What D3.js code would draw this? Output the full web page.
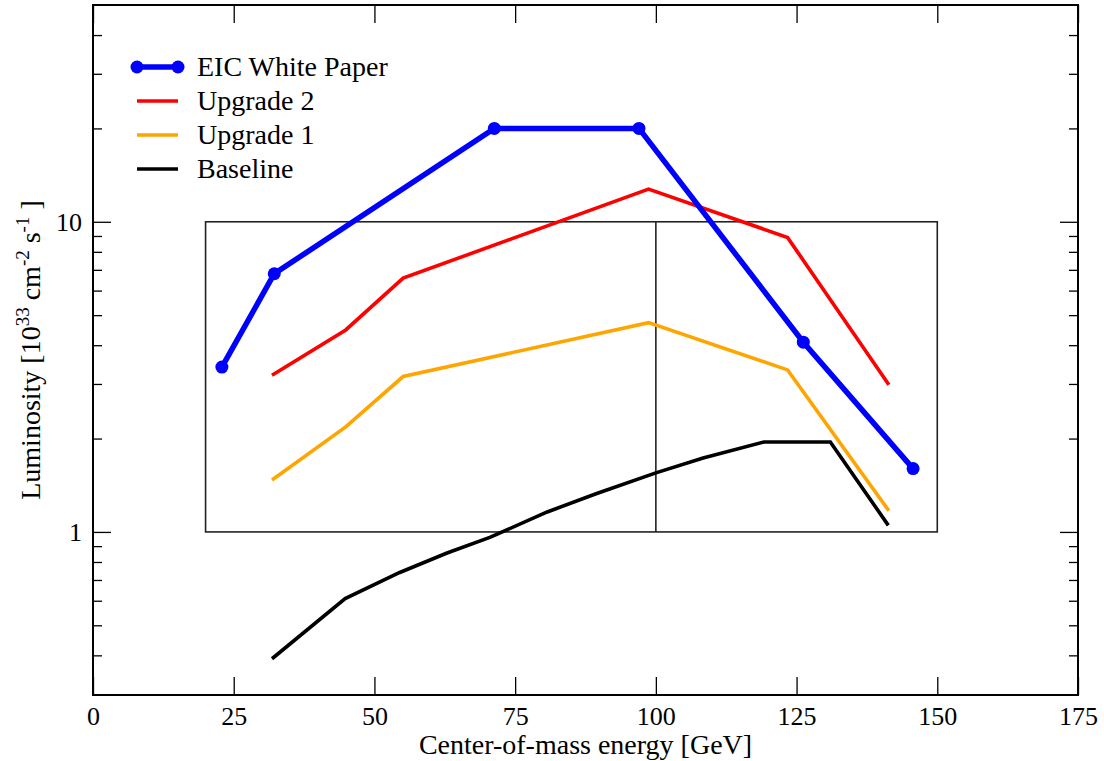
<!DOCTYPE html>
<html>
<head>
<meta charset="utf-8">
<script src="https://cdn.jsdelivr.net/npm/d3@7"></script>
<style>
  body { margin: 0; background: #fff; }
  text { font-family: "Liberation Serif", "Times New Roman", serif; fill: #000; }
</style>
</head>
<body>
<div id="chart"></div>
<script>
// data
var wpE   = [22.9, 32.2, 71.3, 97.0, 126.2, 145.7];
var wpL   = [3.40, 6.80, 20.0, 20.0, 4.09, 1.60];
var upE   = [31.8, 44.9, 55.1, 98.7, 123.4, 141.4];
var up2L  = [3.20, 4.48, 6.58, 12.75, 8.90, 2.98];
var up1L  = [1.47, 2.18, 3.17, 4.73, 3.33, 1.17];
var baseE = [31.8, 44.8, 54.5, 62.9, 70.5, 80.7, 89.5, 100.0, 108.4, 119.2, 131.0, 141.3];
var baseL = [0.39, 0.61, 0.74, 0.855, 0.96, 1.16, 1.33, 1.55, 1.73, 1.95, 1.95, 1.05];

var seriesNames = ["EIC White Paper", "Upgrade 2", "Upgrade 1", "Baseline"];
var seriesColors = ["#0000ff", "#ff0000", "#ffa500", "#000000"];

var xTicks = [0, 25, 50, 75, 100, 125, 150, 175];
var yMajor = [1, 10];
var yMinor = [0.4, 0.5, 0.6, 0.7, 0.8, 0.9, 2, 3, 4, 5, 6, 7, 8, 9, 20, 30, 40];

// box drawn in the plot: 20..150 GeV, 1..10, split at 100 GeV
var boxE = [20, 100, 150];
var boxL = [1, 10];

var margin = {top: 5, right: 26, bottom: 66, left: 93},
    width = 1104 - margin.left - margin.right,
    height = 761 - margin.top - margin.bottom;

var svg = d3.select("#chart").append("svg")
  .attr("width", 1104)
  .attr("height", 761);

var g = svg.append("g")
  .attr("transform", "translate(" + margin.left + "," + margin.top + ")");

var x = d3.scaleLinear().domain([0, 175]).range([0, width]);
var y = d3.scaleLog().domain([0.298, 50]).range([height, 0]);

// box with the 100 GeV divider
g.append("rect")
  .attr("x", x(boxE[0]))
  .attr("y", y(boxL[1]))
  .attr("width", x(boxE[2]) - x(boxE[0]))
  .attr("height", y(boxL[0]) - y(boxL[1]))
  .attr("fill", "none")
  .attr("stroke", "#222")
  .attr("stroke-width", 1.6);
g.append("line")
  .attr("x1", x(boxE[1])).attr("x2", x(boxE[1]))
  .attr("y1", y(boxL[0])).attr("y2", y(boxL[1]))
  .attr("stroke", "#222")
  .attr("stroke-width", 1.6);

// axes, ticks pointing inward
function styleAxis(sel) {
  sel.select(".domain").remove();
  sel.selectAll(".tick line").attr("stroke", "#000").attr("stroke-width", 1.3);
  sel.selectAll("text").style("font-size", "26px").style("font-family", "Liberation Serif");
}

g.append("g")
  .attr("transform", "translate(0," + height + ")")
  .call(d3.axisBottom(x).tickValues(xTicks).tickSize(-18).tickPadding(12).tickFormat(d3.format("d")))
  .call(styleAxis);
g.append("g")
  .call(d3.axisTop(x).tickValues(xTicks).tickSize(-18).tickFormat(""))
  .call(styleAxis);

g.append("g")
  .call(d3.axisLeft(y).tickValues(yMajor).tickSize(-18).tickPadding(11).tickFormat(d3.format("d")))
  .call(styleAxis);
g.append("g")
  .call(d3.axisLeft(y).tickValues(yMinor).tickSize(-9).tickFormat(""))
  .call(styleAxis);
g.append("g")
  .attr("transform", "translate(" + width + ",0)")
  .call(d3.axisRight(y).tickValues(yMajor).tickSize(-18).tickFormat(""))
  .call(styleAxis);
g.append("g")
  .attr("transform", "translate(" + width + ",0)")
  .call(d3.axisRight(y).tickValues(yMinor).tickSize(-9).tickFormat(""))
  .call(styleAxis);

// frame
g.append("rect")
  .attr("width", width)
  .attr("height", height)
  .attr("fill", "none")
  .attr("stroke", "#000")
  .attr("stroke-width", 2);

var line = d3.line()
  .x(function(d) { return x(d[0]); })
  .y(function(d) { return y(d[1]); });

function pairs(xs, ys) {
  return xs.map(function(v, i) { return [v, ys[i]]; });
}

var series = [
  {data: pairs(wpE, wpL), w: 5.5},
  {data: pairs(upE, up2L), w: 3.6},
  {data: pairs(upE, up1L), w: 3.6},
  {data: pairs(baseE, baseL), w: 3.6}
];

// draw back to front so the white paper line sits on top
series.slice().reverse().forEach(function(s, j) {
  var i = series.length - 1 - j;
  g.append("path")
    .datum(s.data)
    .attr("fill", "none")
    .attr("stroke", seriesColors[i])
    .attr("stroke-width", s.w)
    .attr("stroke-linejoin", "miter")
    .attr("d", line);
});

g.selectAll(".wp-dot")
  .data(series[0].data)
  .enter().append("circle")
  .attr("class", "wp-dot")
  .attr("cx", function(d) { return x(d[0]); })
  .attr("cy", function(d) { return y(d[1]); })
  .attr("r", 6.5)
  .attr("fill", seriesColors[0]);

// legend
var legend = svg.append("g").attr("transform", "translate(137,67)");
seriesNames.forEach(function(name, i) {
  var row = legend.append("g").attr("transform", "translate(0," + (i * 34) + ")");
  row.append("line")
    .attr("x1", 0).attr("x2", 41)
    .attr("stroke", seriesColors[i])
    .attr("stroke-width", series[i].w);
  if (i === 0) {
    row.selectAll("circle").data([0, 41]).enter().append("circle")
      .attr("cx", function(d) { return d; })
      .attr("r", 6.5)
      .attr("fill", seriesColors[0]);
  }
  row.append("text")
    .attr("x", 60)
    .attr("y", 9)
    .style("font-size", "28px")
    .text(name);
});

// axis titles
svg.append("text")
  .attr("x", margin.left + width / 2)
  .attr("y", 754)
  .attr("text-anchor", "middle")
  .style("font-size", "28px")
  .text("Center-of-mass energy [GeV]");

var yt = svg.append("text")
  .attr("transform", "translate(40," + (margin.top + height / 2) + ") rotate(-90)")
  .attr("text-anchor", "middle")
  .style("font-size", "28px");
yt.append("tspan").text("Luminosity [10");
yt.append("tspan").attr("dy", -11).style("font-size", "19px").text("33");
yt.append("tspan").attr("dy", 11).text(" cm");
yt.append("tspan").attr("dy", -11).style("font-size", "19px").text("-2");
yt.append("tspan").attr("dy", 11).text("  s");
yt.append("tspan").attr("dy", -11).style("font-size", "19px").text("-1");
yt.append("tspan").attr("dy", 11).text(" ]");
</script>
</body>
</html>
